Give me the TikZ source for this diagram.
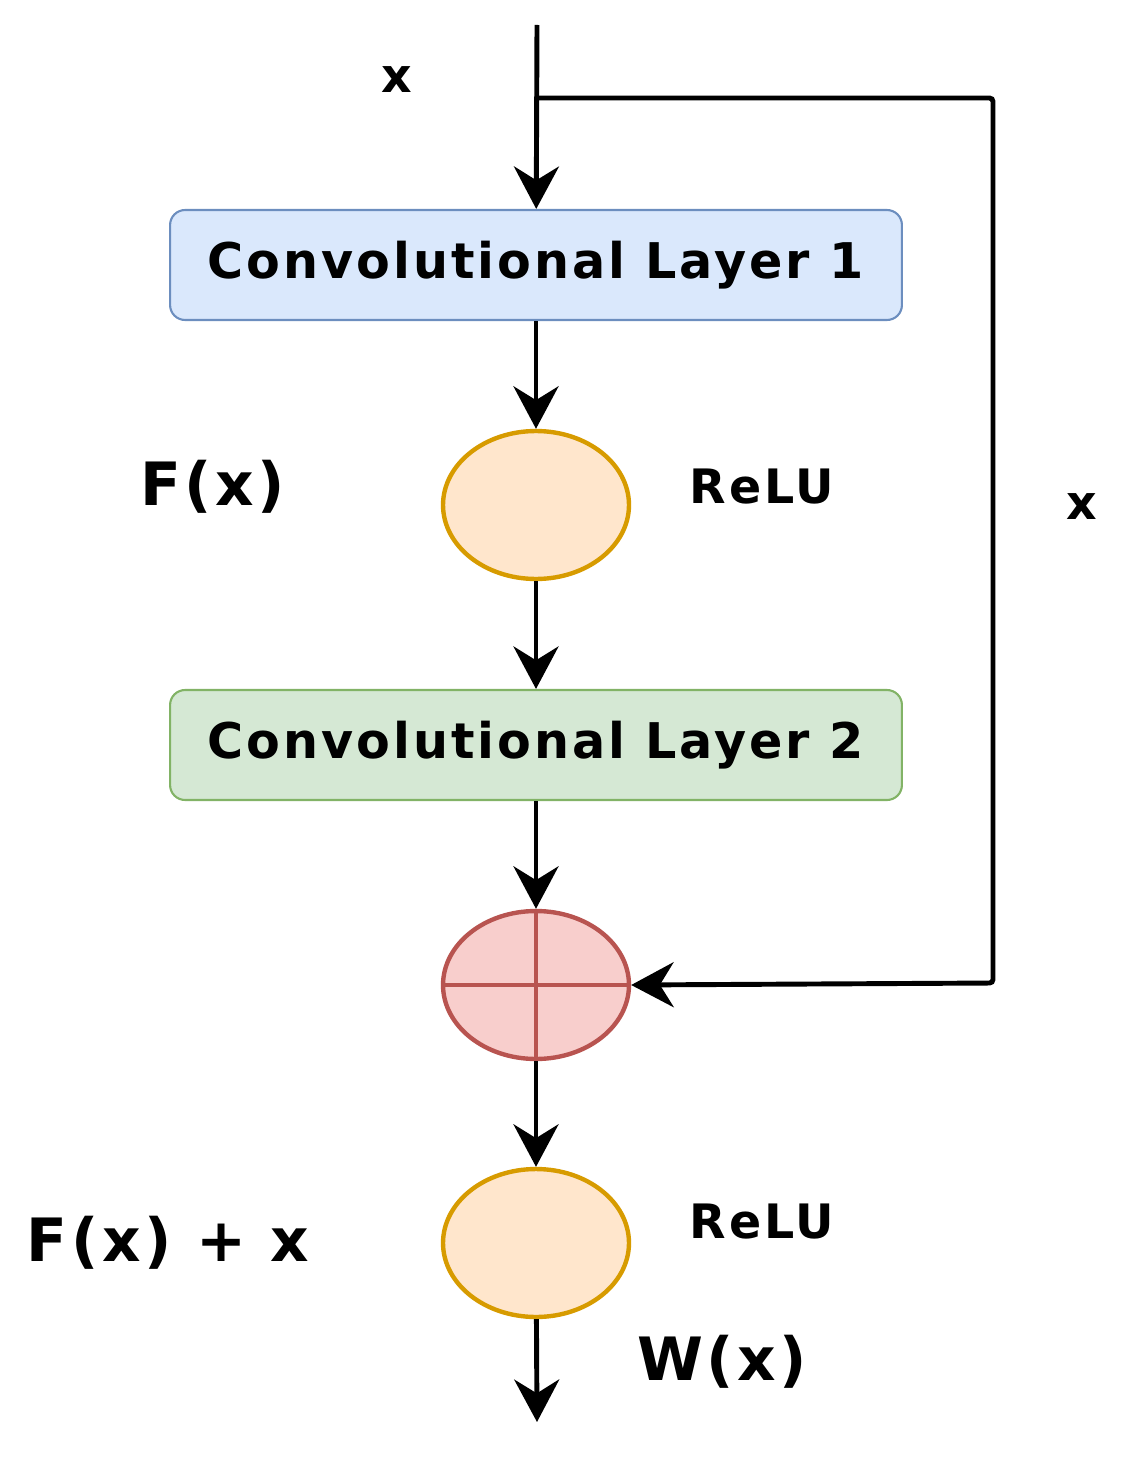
\documentclass[tikz,border=0pt]{standalone}
\usepackage{fontspec}
\setmainfont[LetterSpace=6]{DejaVu Sans}
\usetikzlibrary{shapes, arrows.meta, positioning}
\definecolor{bluefill}{HTML}{DAE8FC}\definecolor{bluedraw}{HTML}{6C8EBF}
\definecolor{greenfill}{HTML}{D5E8D4}\definecolor{greendraw}{HTML}{82B366}
\definecolor{orangefill}{HTML}{FFE6CC}\definecolor{orangedraw}{HTML}{D79B00}
\definecolor{redfill}{HTML}{F8CECC}\definecolor{reddraw}{HTML}{B85450}
\tikzset{
  layer/.style={draw, line width=1.2pt, rounded corners=0.3cm, minimum width=14.64cm, minimum height=2.2cm, font=\fontsize{28}{32}\selectfont\bfseries},
  relu/.style={ellipse, draw=orangedraw, fill=orangefill, line width=2.5pt, minimum width=3.72cm, minimum height=2.96cm},
  flow/.style={line width=2.8pt, -{Stealth[length=0.85cm, width=0.9cm]}},
  lbl/.style={font=\fontsize{27}{30}\selectfont\bfseries}
}
\begin{document}
\begin{tikzpicture}[x=0.02cm, y=-0.02cm]
        \useasboundingbox (0,0) rectangle (1135,1466);
        % Input
        \coordinate (in) at (537,25);
        \coordinate (split) at (537,98);
        \coordinate (out) at (537,1422);
        % Layers
        \node[layer, draw=bluedraw, fill=bluefill] (conv1) at (536,265) {Convolutional Layer 1};
        \node[relu] (relu1) at (536,505) {};
        \node[layer, draw=greendraw, fill=greenfill] (conv2) at (536,745) {Convolutional Layer 2};
        \node[relu, draw=reddraw, fill=redfill] (add) at (536,985) {};
        \draw[reddraw, line width=2.5pt] (add.north) -- (add.south) (add.west) -- (add.east);
        \node[relu] (relu2) at (536,1243) {};
        % Connectors
        \draw[flow] (in) -- (conv1);
        \draw[flow] (conv1) -- (relu1);
        \draw[flow] (relu1) -- (conv2);
        \draw[flow] (conv2) -- (add);
        \draw[flow] (add) -- (relu2);
        \draw[flow] (relu2) -- (out);
        % Skip connection
        \draw[flow, rounded corners=2pt] (split) -| (993,983) -- (add.east);
        % Labels
        \node[lbl] (xin) at (397,80) {x};
        \node[lbl, font=\fontsize{34}{36}\selectfont\bfseries] (fx) at (213,487) {F(x)};
        \node[lbl] (relulbl1) at (762,487) {ReLU};
        \node[lbl] (xskip) at (1082,507) {x};
        \node[lbl, font=\fontsize{34}{36}\selectfont\bfseries] (fxx) at (168,1243) {F(x) + x};
        \node[lbl] (relulbl2) at (762,1222) {ReLU};
        \node[lbl, font=\fontsize{34}{36}\selectfont\bfseries] (wx) at (722,1362) {W(x)};
    \end{tikzpicture}
\end{document}
